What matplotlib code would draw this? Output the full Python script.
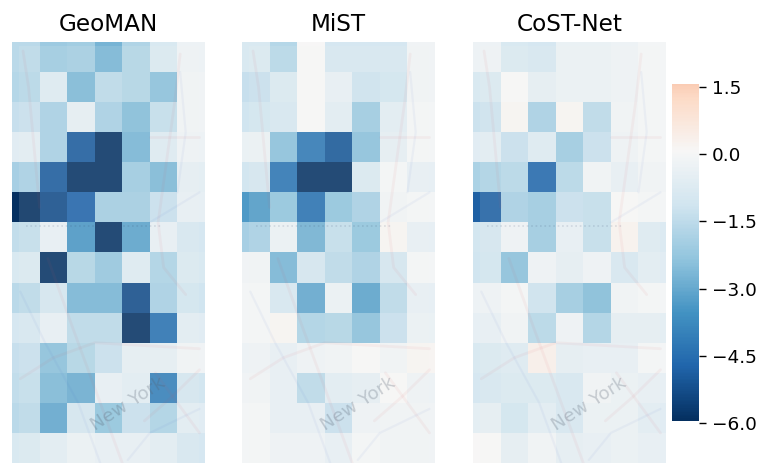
import numpy as np
import matplotlib
matplotlib.use('Agg')
import matplotlib.pyplot as plt
from matplotlib.colors import Normalize
from matplotlib.patches import Rectangle

titles = ['GeoMAN', 'MiST', 'CoST-Net']

geoman = [
    [-1.6, -2.2, -2.1, -2.8, -1.8, -0.9, -0.3],
    [-1.7, -0.8, -2.7, -1.6, -1.8, -2.5, -0.2],
    [-1.4, -2.0, -0.6, -2.0, -2.6, -1.5, -0.2],
    [-0.7, -2.0, -5.0, -5.9, -2.8, -0.8, -0.3],
    [-2.0, -5.0, -5.9, -5.9, -2.2, -2.7, -0.6],
    [-6.0, -5.3, -4.8, -2.1, -2.1, -1.4, -0.5],
    [-1.5, -0.5, -3.5, -5.9, -3.2, -0.5, -1.0],
    [-0.9, -5.9, -1.8, -2.3, -0.8, -1.9, -0.9],
    [-1.6, -1.1, -2.8, -2.8, -5.3, -2.0, -1.2],
    [-1.0, -0.5, -1.6, -1.6, -5.9, -4.5, -0.7],
    [-1.4, -2.5, -1.8, -1.4, -0.6, -0.6, -0.2],
    [-1.5, -2.7, -3.0, -0.5, -0.7, -4.1, -1.1],
    [-1.6, -3.1, -1.1, -2.4, -1.4, -1.9, -0.7],
    [-0.9, -0.7, -0.4, -0.5, -0.5, -0.7, -1.0],
]
mist = [
    [-0.9, -1.7, 0.0, -1.0, -1.0, -1.0, -0.2],
    [-1.4, -0.9, 0.0, -0.5, -1.3, -1.2, -0.2],
    [-1.2, -1.0, 0.0, -0.7, -2.2, -0.7, -0.1],
    [-0.4, -2.5, -4.3, -5.1, -2.5, -0.6, -0.1],
    [-1.1, -4.4, -5.9, -5.9, -0.9, -0.1, -0.5],
    [-3.4, -2.4, -4.5, -2.4, -2.0, -0.2, -0.1],
    [-2.0, -0.4, -2.9, -1.5, -2.4, 0.1, -0.5],
    [-0.2, -2.8, -1.1, -1.6, -2.0, -1.1, -0.1],
    [-0.1, -1.0, -3.1, -0.4, -3.2, -1.6, -0.5],
    [-0.1, 0.1, -1.9, -1.8, -2.5, -1.4, -0.4],
    [-0.3, -0.5, -0.3, -0.2, 0.0, -0.2, 0.1],
    [-0.2, -0.5, -1.6, -0.7, -0.6, 0.0, -0.3],
    [-0.1, -0.5, -0.5, -1.4, -0.3, -0.2, -0.2],
    [-0.1, -0.3, -0.3, -0.5, -0.1, -0.2, -0.2],
]
costnet = [
    [-0.3, -0.9, -1.0, -0.4, -0.4, -0.3, -0.1],
    [-0.9, 0.0, -0.6, -0.4, -0.4, -0.3, -0.1],
    [-1.3, 0.1, -2.0, 0.1, -1.6, -0.2, -0.1],
    [-0.7, -1.4, -0.8, -2.2, -1.4, -0.3, -0.1],
    [-1.9, -1.7, -4.7, -1.7, -0.2, -0.5, -0.2],
    [-4.9, -2.0, -2.2, -1.4, -1.5, 0.0, -0.1],
    [-1.1, -0.3, -2.2, -0.5, -1.5, 0.2, -0.8],
    [-1.2, -2.5, -0.3, -0.6, -0.3, -1.0, -0.7],
    [-0.3, -0.1, -1.3, -2.2, -2.6, -0.2, -0.1],
    [-0.5, -0.2, -1.7, -0.3, -1.9, -0.6, -0.6],
    [-0.9, -0.8, 0.3, -0.6, -0.5, -0.5, -0.1],
    [-1.0, -0.9, -0.9, -1.0, -0.2, -0.4, -0.5],
    [-0.6, -1.2, -0.7, -1.0, -0.4, -0.4, -0.7],
    [0.0, -0.6, -0.2, -0.6, -0.5, -0.4, -0.5],
]
panels = [geoman, mist, costnet]
cbar_ticks = [1.5, 0.0, -1.5, -3.0, -4.5, -6.0]

# faint map roads on top of the cells, in cell units
map_red = [
    [(0.4, 0.3), (0.6, 1.5), (0.8, 3.5), (1.0, 5.5)],
    [(1.3, 7.2), (2.2, 9.5), (3.0, 11.5), (4.0, 14.0)],
    [(6.1, 0.4), (5.9, 2.0), (5.6, 4.0), (5.3, 6.0), (5.5, 7.5), (6.3, 8.4)],
    [(5.0, 3.15), (6.8, 3.15)],
    [(4.8, 12.6), (5.8, 11.8), (6.8, 10.9)],
    [(5.2, 11.0), (6.0, 12.0), (6.8, 13.0)],
    [(0.3, 11.2), (1.5, 10.5), (3.0, 10.0), (6.8, 10.2)],
]
map_blue = [
    [(0.3, 8.3), (1.2, 10.0), (2.4, 12.0), (3.2, 14.0)],
    [(5.0, 6.0), (6.8, 5.0)],
    [(6.1, 1.0), (6.3, 3.0), (6.0, 5.0)],
    [(4.2, 13.9), (5.0, 13.0), (6.8, 12.2)],
]

fig = plt.figure(figsize=(7.62, 4.63), dpi=100)
W, H = 762.0, 463.0
norm = Normalize(vmin=-6, vmax=6)
cmap = 'RdBu_r'
lefts = [12, 242, 473]

for left, title, vals in zip(lefts, titles, panels):
    ax = fig.add_axes([left / W, 0, 193 / W, 421 / H])
    ax.imshow(np.array(vals), cmap=cmap, norm=norm, aspect='auto',
              extent=[0, 7, 14, 0], interpolation='nearest')
    # washed out map layer
    ax.add_patch(Rectangle((0.25, 0.13), 6.55, 13.87, color='#f6f6ee', alpha=0.12, lw=0))
    for pts in map_red:
        x, y = zip(*pts)
        ax.plot(x, y, color='#d8505a', lw=2.0, alpha=0.06, solid_capstyle='round')
    for pts in map_blue:
        x, y = zip(*pts)
        ax.plot(x, y, color='#4060c8', lw=1.6, alpha=0.05, solid_capstyle='round')
    ax.plot([0.5, 5.4], [6.12, 6.12], color='#334466', lw=1.2, ls=':', alpha=0.14)
    ax.text(4.2, 12.03, 'New York', rotation=32.5, ha='center', va='center',
            fontsize=13.3, color='#556070', alpha=0.28)
    ax.set_xlim(0, 7)
    ax.set_ylim(14, 0)
    ax.set_xticks([])
    ax.set_yticks([])
    for s in ax.spines.values():
        s.set_visible(False)
    ax.set_title(title, fontsize=16.7, pad=7.9)

# colorbar, the bar sits a little above its ticks like in the picture
cax = fig.add_axes([672 / W, (H - 425) / H, 27 / W, 341 / H])
scale = 336 / 7.5
grad = np.linspace(1.5, -6, 256).reshape(-1, 1)
cax.imshow(grad, cmap=cmap, norm=norm, aspect='auto',
           extent=[0, 1, -6 + 2.5 / scale, 1.5 + 3 / scale])
cax.set_xlim(0, 1)
cax.set_ylim(-6 - 2 / scale, 1.5 + 3 / scale)
cax.set_xticks([])
cax.yaxis.tick_right()
cax.set_yticks(cbar_ticks)
cax.set_yticklabels(['1.5', '0.0', '\u22121.5', '\u22123.0', '\u22124.5', '\u22126.0'])
cax.tick_params(axis='y', labelsize=13.3, length=5, width=1, pad=4)
for s in cax.spines.values():
    s.set_visible(False)

fig.savefig('out.png', dpi=100)
